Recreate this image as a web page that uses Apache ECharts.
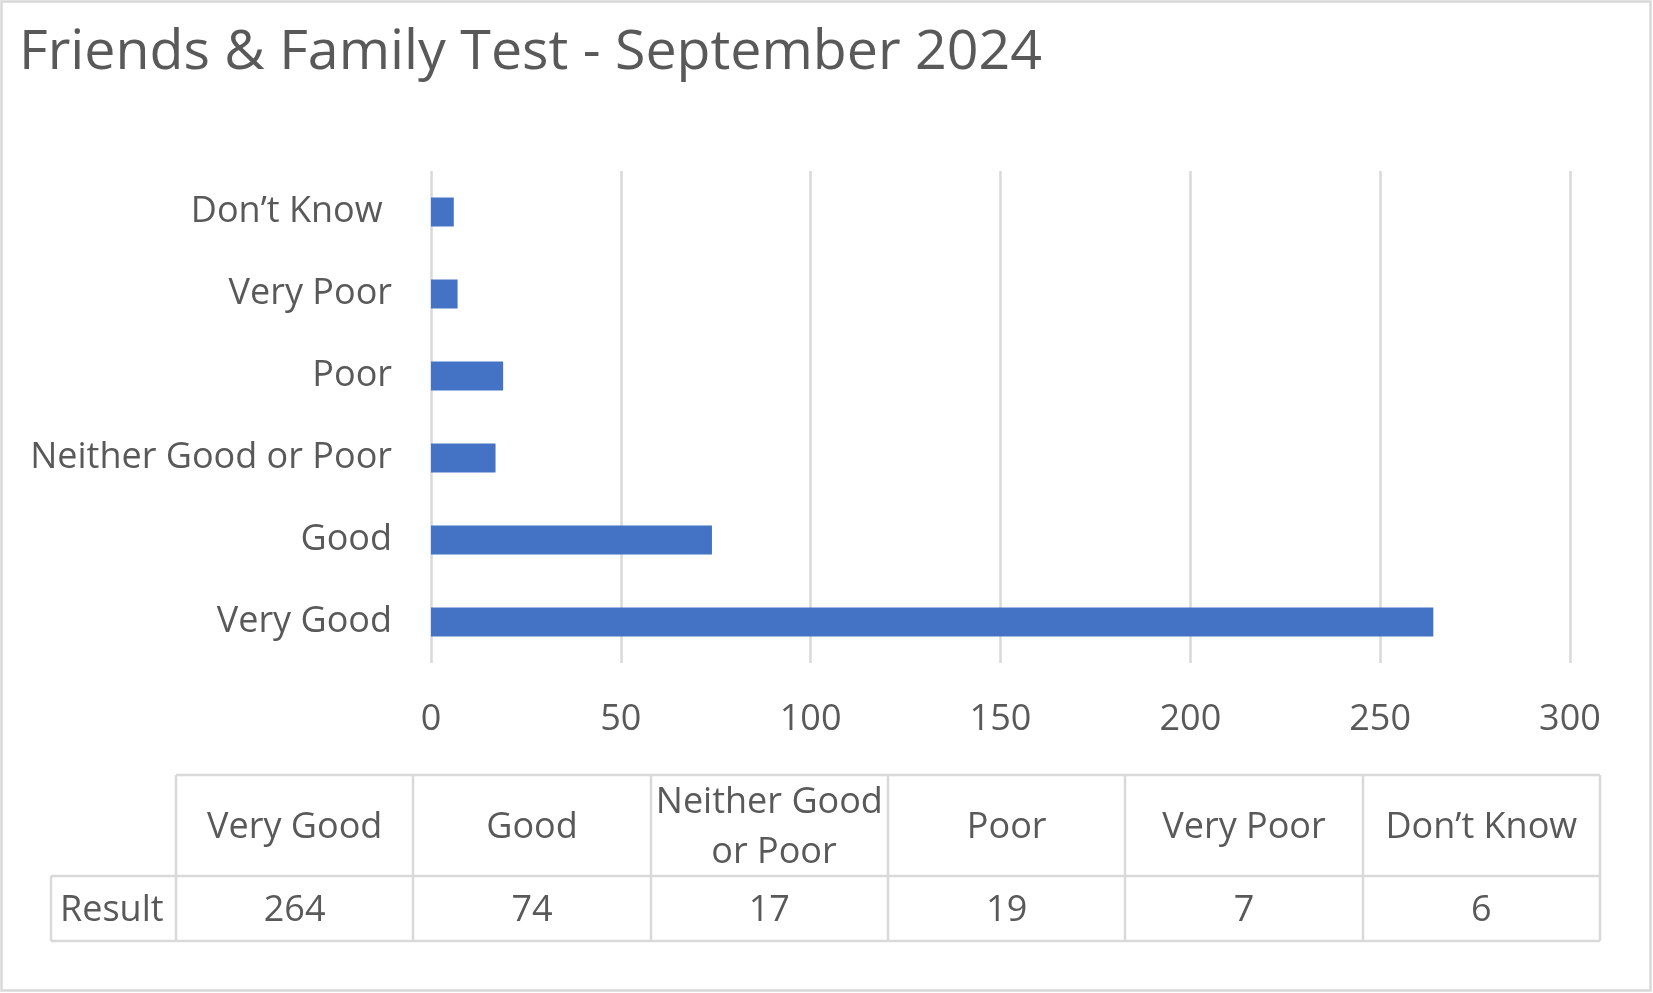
<!DOCTYPE html>
<html>
<head>
<meta charset="utf-8">
<script src="https://cdn.jsdelivr.net/npm/echarts@6/dist/echarts.min.js"></script>
<style>
html,body{margin:0;padding:0;background:#fff;}
#chart{width:1653px;height:993px;}
</style>
</head>
<body>
<div id="chart"></div>
<script>
const titleText = 'Friends & Family Test - September 2024';
const categories = ['Very Good', 'Good', 'Neither Good or Poor', 'Poor', 'Very Poor', 'Don\u2019t Know'];
const axisLabels = ['Very Good', 'Good', 'Neither Good or Poor', 'Poor', 'Very Poor', 'Don\u2019t Know '];
const seriesName = 'Result';
const results = [264, 74, 17, 19, 7, 6];
const xTicks = [0, 50, 100, 150, 200, 250, 300];

const FONT = '"Open Sans", sans-serif';
const TXT = '#595959';
const LINE = '#d9d9d9';

// data table layout
const tblLeft = 51, colStart = 176, colEnd = 1600;
const rowTop = 775, rowMid = 876, rowBot = 941;
const n = categories.length;
const colW = (colEnd - colStart) / n;
const dy = 2;

const graphics = [];
// outer chart border
graphics.push({type:'rect', shape:{x:1.5,y:1.5,width:1649,height:989}, style:{fill:null, stroke:LINE, lineWidth:2.5}, silent:true});
// table lines
graphics.push({type:'line', shape:{x1:colStart,y1:rowTop,x2:colEnd,y2:rowTop}, style:{stroke:LINE,lineWidth:2.5}});
graphics.push({type:'line', shape:{x1:tblLeft,y1:rowMid,x2:colEnd,y2:rowMid}, style:{stroke:LINE,lineWidth:2.5}});
graphics.push({type:'line', shape:{x1:tblLeft,y1:rowBot,x2:colEnd,y2:rowBot}, style:{stroke:LINE,lineWidth:2.5}});
graphics.push({type:'line', shape:{x1:tblLeft,y1:rowMid,x2:tblLeft,y2:rowBot}, style:{stroke:LINE,lineWidth:2.5}});
for (let i = 0; i <= n; i++) {
  const x = Math.round(colStart + i * colW);
  graphics.push({type:'line', shape:{x1:x,y1:rowTop,x2:x,y2:rowBot}, style:{stroke:LINE,lineWidth:2.5}});
}
for (let i = 0; i < n; i++) {
  const cx = colStart + (i + 0.5) * colW;
  graphics.push({type:'text', x:cx, y:(rowTop+rowMid)/2+dy, style:{
    text:categories[i], font:'36px '+FONT, fill:TXT, align:'center', verticalAlign:'middle',
    width:colW-10, overflow:'break', lineHeight:50}});
  graphics.push({type:'text', x:cx, y:(rowMid+rowBot)/2+dy, style:{
    text:String(results[i]), font:'36px '+FONT, fill:TXT, align:'center', verticalAlign:'middle'}});
}
graphics.push({type:'text', x:tblLeft+9, y:(rowMid+rowBot)/2+dy, style:{
  text:seriesName, font:'36px '+FONT, fill:TXT, align:'left', verticalAlign:'middle'}});

const chart = echarts.init(document.getElementById('chart'), null, {renderer:'canvas'});
chart.setOption({
  backgroundColor:'#fff',
  animation:false,
  title:{text:titleText, left:14, top:20, textStyle:{fontFamily:FONT, fontSize:55.5, fontWeight:'normal', color:TXT}},
  grid:{left:431, top:171, width:1139, height:492, containLabel:false},
  xAxis:{type:'value', min:0, max:300, interval:50,
    axisLine:{show:false}, axisTick:{show:false},
    splitLine:{show:true, lineStyle:{color:LINE, width:2.5}},
    axisLabel:{fontFamily:FONT, fontSize:36, color:TXT, margin:39,
      formatter:function(v){return xTicks.indexOf(v)>=0?String(v):'';}}},
  yAxis:{type:'category', data:axisLabels,
    axisLine:{show:false}, axisTick:{show:false},
    axisLabel:{fontFamily:FONT, fontSize:36, color:TXT, margin:39, padding:[8,0,0,0]}},
  series:[{name:seriesName, type:'bar', data:results, barWidth:29,
    itemStyle:{color:'#4472C4'}}],
  graphic:graphics
});
</script>
</body>
</html>
